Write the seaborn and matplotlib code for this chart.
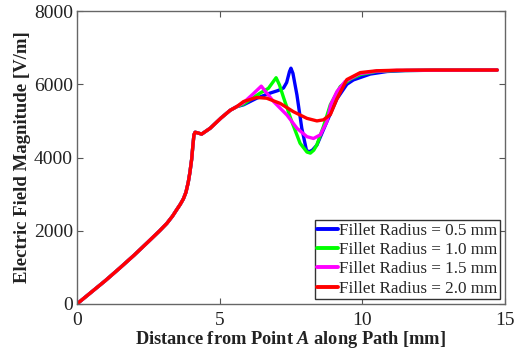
import numpy as np
import pandas as pd
import matplotlib
matplotlib.use("Agg")
import matplotlib.pyplot as plt
import seaborn as sns

# ---- data ----
common_x = [0, 0.5, 1.0, 1.5, 2.0, 2.5, 2.9, 3.15, 3.35, 3.5, 3.62, 3.73, 3.82, 3.9,
            3.96, 4.02, 4.06, 4.1, 4.14, 4.2, 4.37, 4.67, 5.05, 5.37, 5.6]
common_y = [0, 320, 640, 980, 1330, 1700, 2000, 2200, 2400, 2580, 2720, 2870, 3050, 3320,
            3600, 3950, 4300, 4620, 4690, 4680, 4640, 4800, 5080, 5290, 5390]

blue_x = [5.84, 6.3, 6.77, 7.05, 7.24, 7.35, 7.45, 7.5, 7.57, 7.71, 7.88, 8.04, 8.12,
          8.25, 8.41, 8.76, 9.11, 9.46, 9.69, 10.28, 10.87, 11.5, 12.5, 14.73]
blue_y = [5440, 5620, 5760, 5830, 5900, 6050, 6350, 6440, 6300, 5710, 4800, 4210, 4150,
          4200, 4340, 4980, 5600, 6000, 6120, 6280, 6350, 6375, 6385, 6390]

green_x = [5.84, 6.42, 6.71, 6.98, 7.1, 7.24, 7.53, 7.82, 8.06, 8.18, 8.3, 8.41, 8.64,
           8.88, 9.23, 9.6, 9.95, 10.5, 11.2, 12.5, 14.73]
green_y = [5460, 5760, 5890, 6180, 5980, 5640, 4980, 4390, 4150, 4120, 4200, 4350, 4850,
           5440, 5940, 6150, 6270, 6350, 6375, 6385, 6390]

magenta_x = [5.84, 6.15, 6.46, 6.89, 7.36, 7.71, 8.06, 8.29, 8.53, 8.76, 8.9, 9.11,
             9.4, 9.9, 10.5, 11.2, 12.5, 14.73]
magenta_y = [5500, 5720, 5950, 5530, 5160, 4800, 4570, 4520, 4620, 4980, 5450, 5800,
             6080, 6290, 6360, 6380, 6385, 6390]

red_x = [5.84, 6.3, 6.65, 7.12, 7.59, 8.06, 8.41, 8.64, 8.88, 9.11, 9.46, 9.93, 10.5,
         11.2, 12.5, 14.73]
red_y = [5530, 5640, 5620, 5480, 5250, 5070, 5000, 5030, 5170, 5600, 6130, 6320, 6370,
         6385, 6390, 6390]

labels = ["Fillet Radius = 0.5 mm", "Fillet Radius = 1.0 mm",
          "Fillet Radius = 1.5 mm", "Fillet Radius = 2.0 mm"]
colors = ["#0000ff", "#00ff00", "#ff00ff", "#ff0000"]
x_ticks = [0, 5, 10, 15]
y_ticks = [0, 2000, 4000, 6000, 8000]

tails = [(blue_x, blue_y), (green_x, green_y), (magenta_x, magenta_y), (red_x, red_y)]
frames = []
for lab, (tx, ty) in zip(labels, tails):
    frames.append(pd.DataFrame({"x": common_x + tx, "y": common_y + ty, "series": lab}))
df = pd.concat(frames, ignore_index=True)

sns.set_theme(style="white")
plt.rcParams["font.family"] = ["Liberation Serif", "DejaVu Serif"]
plt.rcParams["mathtext.fontset"] = "custom"
plt.rcParams["mathtext.rm"] = "Liberation Serif"
plt.rcParams["mathtext.it"] = "Liberation Serif:italic:bold"
plt.rcParams["mathtext.bf"] = "Liberation Serif:bold"

fig = plt.figure(figsize=(5.2, 3.58), dpi=100)
ax = fig.add_axes([0.148, 0.151, 0.823, 0.818])

sns.lineplot(data=df, x="x", y="y", hue="series", palette=colors, sort=False,
             estimator=None, linewidth=2.4, ax=ax, legend=True)

ax.set_xlim(0, 15)
ax.set_ylim(0, 8000)
ax.set_xticks(x_ticks)
ax.set_yticks(y_ticks)
ax.tick_params(direction="in", length=4, width=0.8, colors="#555555",
               labelcolor="#222222", labelsize=14, top=True, right=True,
               bottom=True, left=True)
ax.tick_params(axis="x", pad=6)
ax.tick_params(axis="y", pad=3)
for s in ax.spines.values():
    s.set_color("#666666")
    s.set_linewidth(1.0)
    s.set_visible(True)

ax.set_xlabel(r"Distance from Point $A$ along Path [mm]", fontsize=13.2,
              fontweight="bold", color="#222222", labelpad=0)
ax.set_ylabel("Electric Field Magnitude [V/m]", fontsize=13.5,
              fontweight="bold", color="#222222", labelpad=2)

handles, labs = ax.get_legend_handles_labels()
leg = ax.legend(handles, labs, loc="lower right", fontsize=12.3, frameon=True,
                fancybox=False, edgecolor="#333333", framealpha=1,
                handlelength=1.2, handletextpad=0.1, borderpad=0.12,
                labelspacing=0.2, borderaxespad=0.3)
leg.get_frame().set_linewidth(1.0)
for h in leg.get_lines():
    h.set_linewidth(2.8)

fig.savefig("out.png", dpi=100)
